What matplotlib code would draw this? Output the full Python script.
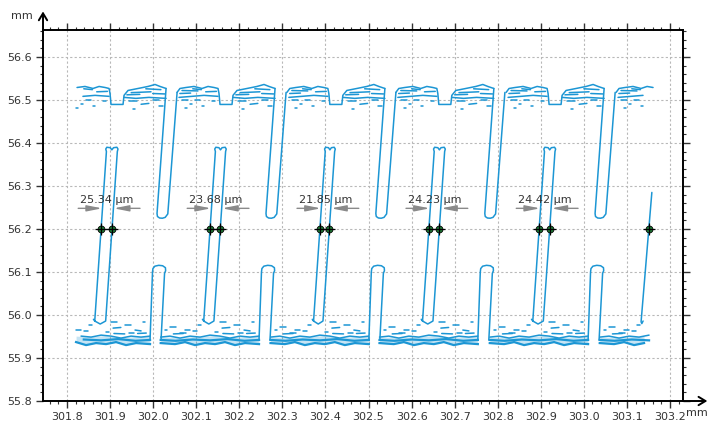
"""Line-width profile of an interdigitated comb structure."""

import numpy as np
import matplotlib.pyplot as plt
from matplotlib.ticker import MultipleLocator, FormatStrFormatter

plt.rcParams.update({
    "font.family": "DejaVu Sans",
    "xtick.labelsize": 8,
    "ytick.labelsize": 8,
    "xtick.color": "#333333",
    "ytick.color": "#333333",
})

BLUE = "#1c96d4"
GREEN = "#1e7b35"
GRAY = "#8a8a8a"

# thin fingers: left edge x at the cut line (mm) and measured width (µm)
cut_y = 56.2
finger_left = [301.879, 302.132, 302.387, 302.640, 302.896]
finger_width = [25.34, 23.68, 21.85, 24.23, 24.42]
last_finger = 303.1513

# band segments per period: left/right limit relative to finger_left
top_lo = [-0.0604, -0.0766, -0.0766, -0.0766, -0.0766, -0.0766]
top_hi = [0.151, 0.151, 0.151, 0.151, 0.151, 0.0093]
bot_lo = [-0.065, -0.1145, -0.1145, -0.1145, -0.1145, -0.1145]
bot_hi = [0.1138, 0.1138, 0.1138, 0.1138, 0.1138, 0.0023]

# upper band (edge at ~56.52 mm) with notch above each thin finger
top_edge_dx = [-0.0766, -0.0697, -0.0557, -0.0372, -0.0186, -0.0046, 0.0093, 0.0186,
               0.0209, 0.0232, 0.0511, 0.0534, 0.0627, 0.0859, 0.1091, 0.1254, 0.1370, 0.1510]
top_edge_y = [56.5175, 56.5267, 56.5290, 56.5314, 56.5267, 56.5314, 56.5290, 56.5267,
              56.5151, 56.4896, 56.4896, 56.5107, 56.5221, 56.5267, 56.5314, 56.5360, 56.5314, 56.5267]
top_low_a_dx = [-0.072, -0.042, -0.014, 0.0186]
top_low_a_y = [56.506, 56.5084, 56.5107, 56.5084]
top_low_b_dx = [0.0534, 0.081, 0.111, 0.151]
top_low_b_y = [56.506, 56.5037, 56.506, 56.5037]
top_specks = [
    (-0.065, -0.028, 56.522, 56.521), (0.070, 0.116, 56.517, 56.519), (0.104, 0.139, 56.526, 56.524),
    (-0.070, -0.045, 56.515, 56.516), (0.060, 0.090, 56.512, 56.513), (0.120, 0.148, 56.515, 56.514),
    (-0.010, 0.015, 56.519, 56.520), (-0.040, -0.020, 56.526, 56.524),
    (-0.065, -0.051, 56.501, 56.501), (-0.035, -0.023, 56.499, 56.499), (-0.046, -0.042, 56.490, 56.490),
    (-0.019, -0.014, 56.487, 56.487), (0.005, 0.012, 56.497, 56.497), (0.065, 0.084, 56.497, 56.497),
    (0.093, 0.111, 56.490, 56.492), (0.121, 0.135, 56.499, 56.499), (0.074, 0.079, 56.480, 56.480),
    (0.135, 0.144, 56.487, 56.487), (-0.058, -0.053, 56.481, 56.481),
]

# lower band (~55.93-55.95 mm)
bot_up_dx = [-0.1145, -0.0929, -0.0697, -0.0464, -0.0232, 0.0, 0.0232, 0.0464, 0.0697, 0.0929, 0.1138]
bot_up_y = [55.9486, 55.9509, 55.9463, 55.9509, 55.9486, 55.9532, 55.9509, 55.9463, 55.9509, 55.9486, 55.9509]
bot_mid_dx = [-0.1145, -0.080, -0.040, 0.0, 0.040, 0.080, 0.1138]
bot_mid_y = [55.942, 55.940, 55.943, 55.941, 55.944, 55.940, 55.942]
bot_low_dx = [-0.1145, -0.0813, -0.058, -0.0348, -0.0116, 0.0116, 0.0348, 0.058, 0.0813, 0.1138]
bot_low_y = [55.9347, 55.9323, 55.937, 55.930, 55.9347, 55.9323, 55.937, 55.930, 55.9347, 55.9323]
bot_specks = [
    (-0.0929, -0.0789, 55.972, 55.972), (-0.058, -0.046, 55.965, 55.965), (-0.028, -0.021, 55.9765, 55.9765),
    (0.023, 0.037, 55.983, 55.983), (0.028, 0.046, 55.9695, 55.971), (0.056, 0.070, 55.9765, 55.9765),
    (0.079, 0.093, 55.965, 55.963), (0.065, 0.077, 55.958, 55.958), (-0.070, -0.056, 55.958, 55.958),
    (0.012, 0.019, 55.960, 55.960), (0.0975, 0.102, 55.983, 55.983), (-0.1045, -0.100, 55.965, 55.965),
    (-0.085, -0.062, 55.956, 55.957), (0.030, 0.055, 55.957, 55.956), (0.085, 0.105, 55.957, 55.958),
    (-0.040, -0.030, 55.962, 55.962),
]

# hanging finger (from upper band) and short finger (from lower band)
hang_dx = [0.1510, 0.1300, 0.1310, 0.1360, 0.1425, 0.1490, 0.1550, 0.1766]
hang_y = [56.5267, 56.2360, 56.2290, 56.2255, 56.2250, 56.2270, 56.2350, 56.5175]
short_dx = [0.1138, 0.1195, 0.1205, 0.1250, 0.1340, 0.1430, 0.1495, 0.1500, 0.1475, 0.1393]
short_y = [55.9416, 56.1000, 56.1080, 56.1135, 56.1155, 56.1145, 56.1100, 56.1030, 56.0970, 55.9416]

# thin finger outline
thin_top_dx, thin_top_y = 0.0125, 56.380
thin_bot_dx, thin_bot_y = -0.0146, 55.986

last_line_x = [303.1375, 303.1345, 303.1328, 303.1578]
last_line_y = [55.986, 55.980, 55.984, 56.285]


def clip(dx, y, anchor, lo, hi):
    dx = np.asarray(dx)
    y = np.asarray(y)
    m = (dx >= lo - 1e-9) & (dx <= hi + 1e-9)
    return anchor + dx[m], y[m]


fig = plt.figure(figsize=(7.18, 4.23), dpi=100)
ax = fig.add_axes([0.0599, 0.052, 0.8914, 0.8771])
kw = dict(color=BLUE, lw=1.1, solid_capstyle="round", zorder=3)

anchors = finger_left + [last_finger]
for k, a in enumerate(anchors):
    # upper band
    for dx, y in [(top_edge_dx, top_edge_y), (top_low_a_dx, top_low_a_y), (top_low_b_dx, top_low_b_y)]:
        xs, ys = clip(dx, y, a, top_lo[k], top_hi[k])
        ax.plot(xs, ys, **kw)
    for x1, x2, y1, y2 in top_specks:
        if x1 >= top_lo[k] and x2 <= top_hi[k]:
            ax.plot([a + x1, a + x2], [y1, y2], **kw)
    # lower band
    xs_u, ys_u = clip(bot_up_dx, bot_up_y, a, bot_lo[k], bot_hi[k])
    xs_l, ys_l = clip(bot_low_dx, bot_low_y, a, bot_lo[k], bot_hi[k])
    xs_m, ys_m = clip(bot_mid_dx, bot_mid_y, a, bot_lo[k], bot_hi[k])
    ax.plot(xs_u, ys_u, **kw)
    ax.plot(xs_m, ys_m, color=BLUE, lw=1.6, zorder=3)
    ax.plot(xs_l, ys_l, color=BLUE, lw=1.6, zorder=3)
    ax.fill_between(xs_l, ys_l, np.interp(xs_l, xs_u, ys_u), color=BLUE, alpha=0.25, lw=0)
    for x1, x2, y1, y2 in bot_specks:
        if x1 >= bot_lo[k] and x2 <= bot_hi[k]:
            ax.plot([a + x1, a + x2], [y1, y2], **kw)

for a, w_um in zip(finger_left, finger_width):
    w = w_um / 1000
    ax.plot(a + np.array(hang_dx), hang_y, **kw)
    ax.plot(a + np.array(short_dx), short_y, **kw)
    t = thin_top_dx
    thin_x = [thin_bot_dx - 0.003, thin_bot_dx, t, t - 0.0015, t + 0.001,
              t + w * 0.35, t + w / 2, t + w * 0.65, t + w - 0.001,
              t + w + 0.0015, t + w, thin_bot_dx + w, thin_bot_dx + w / 2, thin_bot_dx]
    thin_y = [thin_bot_y + 0.004, thin_bot_y, thin_top_y, 56.386, 56.390, 56.389, 56.384,
              56.389, 56.390, 56.386, thin_top_y, thin_bot_y, thin_bot_y - 0.007, thin_bot_y]
    ax.plot(a + np.array(thin_x), thin_y, **kw)

    # measurement: markers, arrows, label
    for xm in (a, a + w):
        ax.plot(xm, cut_y, "o", ms=5, mfc=GREEN, mec="black", mew=0.6, zorder=5)
        ax.plot(xm, cut_y, "+", ms=9, color="black", mew=0.9, zorder=6)
    ya = 56.248
    shift = (ya - cut_y) * 0.0694
    ax.annotate("", xy=(a + shift - 0.001, ya), xytext=(a - 0.053, ya),
                arrowprops=dict(arrowstyle="-|>,head_length=0.9,head_width=0.18",
                                color=GRAY, lw=1.0, shrinkA=0, shrinkB=0))
    ax.annotate("", xy=(a + w + shift + 0.001, ya), xytext=(a + 0.0905, ya),
                arrowprops=dict(arrowstyle="-|>,head_length=0.9,head_width=0.18",
                                color=GRAY, lw=1.0, shrinkA=0, shrinkB=0))
    ax.text(a + w / 2 + 0.0015, 56.2667, f"{w_um:.2f} µm", ha="center", va="center",
            fontsize=8, color="#333333")

ax.plot(last_line_x, last_line_y, **kw)
ax.plot(last_finger, cut_y, "o", ms=5, mfc=GREEN, mec="black", mew=0.6, zorder=5)
ax.plot(last_finger, cut_y, "+", ms=9, color="black", mew=0.9, zorder=6)

# axes, ticks and grid
ax.set_xlim(301.7443, 303.2302)
ax.set_ylim(55.8, 56.6627)
ax.xaxis.set_major_locator(MultipleLocator(0.1))
ax.xaxis.set_minor_locator(MultipleLocator(0.02))
ax.yaxis.set_major_locator(MultipleLocator(0.1))
ax.yaxis.set_minor_locator(MultipleLocator(0.02))
ax.xaxis.set_major_formatter(FormatStrFormatter("%.1f"))
ax.yaxis.set_major_formatter(FormatStrFormatter("%.1f"))
ax.tick_params(which="both", direction="out", top=True, right=True, width=1.0, pad=3)
ax.tick_params(which="major", length=5)
ax.tick_params(which="minor", length=2.5, width=0.8)
ax.grid(True, which="major", color="#b8b8b8", ls=(0, (2, 2)), lw=0.8)
ax.set_axisbelow(True)
for s in ax.spines.values():
    s.set_linewidth(1.4)

arrow = dict(arrowstyle="->,head_length=0.5,head_width=0.3", color="black", lw=1.4,
             shrinkA=0, shrinkB=0)
ax.annotate("", xy=(0, 1.05), xytext=(0, 1.0), xycoords="axes fraction",
            textcoords="axes fraction", arrowprops=arrow, annotation_clip=False)
ax.annotate("", xy=(1.038, 0), xytext=(1.0, 0), xycoords="axes fraction",
            textcoords="axes fraction", arrowprops=arrow, annotation_clip=False)
fig.text(0.030, 0.962, "mm", fontsize=8, color="#333333", ha="center", va="center")
fig.text(0.971, 0.024, "mm", fontsize=8, color="#333333", ha="center", va="center")

fig.savefig("out.png", dpi=100)
